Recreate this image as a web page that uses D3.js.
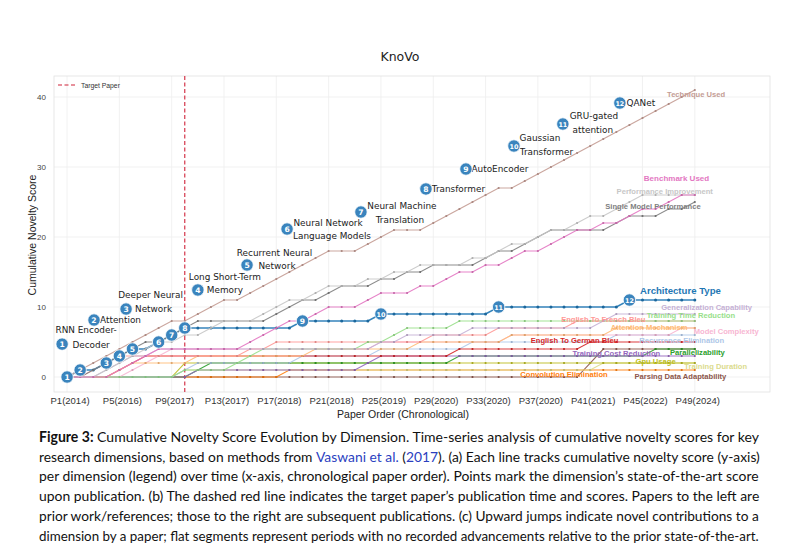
<!DOCTYPE html>
<html>
<head>
<meta charset="utf-8">
<title>KnoVo</title>
<style>
    body { margin: 0; padding: 0; background: #fff; }
    svg { display: block; }
    .tick-label { font-family: "Liberation Sans", Arial, sans-serif; font-size: 9.5px; fill: #333; }
    .ytick { font-family: "Liberation Sans", Arial, sans-serif; font-size: 8px; fill: #444; }
    .axis-title { font-family: "Liberation Sans", Arial, sans-serif; font-size: 10.5px; fill: #222; }
    .anno { font-family: "DejaVu Sans", sans-serif; font-size: 8.9px; fill: #222; }
    .dim-label { font-family: "Liberation Sans", Arial, sans-serif; font-size: 7.6px; font-weight: bold; }
    .caption { font-family: Lato, "Open Sans", sans-serif; font-size: 14.2px; fill: #111; }
</style>
</head>
<body>
<svg id="chart" width="800" height="544"></svg>
<script src="https://d3js.org/d3.v7.min.js"></script>
<script>
// ---- data (one value per paper, P1..P49) ----
var techniqueUsed = [0,1,2,3,4,5,6,7,8,8,9,10,11,11,12,13,14,15,16,17,18,18,18,19,20,21,21,21,22,23,24,25,26,27,27,28,29,30,31,32,33,34,35,36,37,38,39,40,41];
var benchmarkUsed = [0,0,0,0,1,2,3,4,4,4,4,4,4,4,5,6,7,8,8,9,10,10,10,11,12,12,12,13,13,14,15,15,16,16,17,18,18,19,20,21,21,22,22,23,24,24,25,26,26];
var perfImprovement = [0,0,0,1,2,3,4,5,5,6,6,7,8,8,8,9,10,11,11,12,13,13,13,14,14,15,15,16,16,16,16,17,17,18,19,19,20,21,21,22,23,23,24,25,26,26,26,26,26];
var singleModelPerf = [0,0,1,2,3,4,5,5,6,7,8,8,8,8,8,8,9,10,11,11,12,13,13,13,14,14,15,15,16,16,16,16,17,18,18,19,20,21,21,21,21,21,22,23,23,23,24,24,25];
var architectureType = [0,1,1,2,3,4,4,5,6,7,7,7,7,7,7,7,7,7,8,8,8,8,8,8,9,9,9,9,9,9,9,9,9,10,10,10,10,10,10,10,10,10,10,11,11,11,11,11,11];
var generalization = [0,0,0,1,2,3,3,4,4,4,4,4,4,4,4,4,4,4,4,4,4,4,4,4,5,5,6,6,6,6,6,7,7,7,7,7,7,7,7,7,7,8,9,9,9,9,9,9,9];
var trainTimeReduction = [0,0,0,0,0,0,0,0,0,1,1,1,1,2,3,4,4,4,4,4,4,4,4,5,5,6,7,7,7,7,8,8,8,8,8,8,8,8,8,8,8,8,8,8,8,8,8,8,8];
var enFrBleu = [0,0,1,2,3,3,3,3,3,3,3,3,3,3,4,4,5,5,5,5,5,5,5,5,5,5,5,5,6,6,6,6,6,7,7,7,7,7,7,8,8,8,8,8,8,8,8,8,8];
var attentionMech = [0,0,0,0,1,2,2,2,2,2,3,3,3,3,3,3,3,3,3,4,4,4,4,4,4,4,4,5,5,5,5,5,5,5,6,6,6,6,6,6,6,6,7,7,7,7,7,7,7];
var modelComplexity = [0,0,0,0,0,1,2,3,4,4,4,4,4,4,4,4,4,4,4,4,4,4,4,4,5,5,5,5,5,5,5,5,5,5,6,6,6,6,6,6,6,6,6,6,6,6,6,7,7];
var enDeBleu = [0,0,0,0,1,2,3,3,3,3,3,3,3,3,3,3,3,3,3,3,3,3,3,3,3,3,3,3,3,3,4,4,4,4,4,4,4,4,4,4,5,5,5,5,5,5,5,5,5];
var recurrenceElim = [0,0,0,0,0,0,0,0,0,1,2,2,2,2,2,2,2,2,3,3,3,3,3,3,4,4,4,4,4,4,4,5,5,5,5,5,5,5,5,5,5,5,6,6,6,6,6,6,6];
var trainCostReduction = [0,0,0,0,0,0,0,0,0,0,1,1,1,1,1,1,1,1,1,1,1,1,1,2,3,3,3,3,3,3,3,3,3,3,3,3,3,3,3,3,3,3,3,3,3,3,3,3,3];
var parallelizability = [0,0,0,0,0,0,0,0,0,0,1,2,2,2,2,2,2,2,2,2,2,2,2,2,2,2,2,2,2,2,3,3,3,3,3,3,3,3,3,3,3,3,3,3,3,4,4,4,4];
var gpuUsage = [0,0,0,0,0,0,0,0,0,2,2,2,2,2,2,2,2,2,2,2,2,2,2,2,2,2,2,2,2,2,2,2,2,2,2,2,2,2,2,2,2,2,2,2,2,2,2,2,2];
var trainDuration = [0,0,0,0,0,0,0,0,0,1,1,1,1,1,1,1,1,1,1,1,1,1,1,1,1,1,1,1,1,1,1,1,1,1,1,1,1,1,1,1,1,2,2,2,2,2,2,2,2];
var convElimination = [0,0,0,0,0,0,0,0,0,0,0,0,0,0,0,0,0,1,1,1,1,1,1,1,1,1,1,1,1,1,1,1,1,1,1,1,1,1,1,1,1,1,1,1,1,1,1,1,1];
var parsingAdapt = [0,0,0,0,0,0,0,0,0,0,0,0,0,0,0,0,0,0,0,0,0,0,0,0,0,0,0,0,0,0,0,0,0,0,0,0,0,0,0,0,2,4,4,4,4,4,4,4,4];

var dimensions = ["Technique Used", "Benchmark Used", "Performance Improvement", "Single Model Performance",
    "Architecture Type", "Generalization Capability", "Training Time Reduction", "English To French Bleu",
    "Attention Mechanism", "Model Complexity", "English To German Bleu", "Recurrence Elimination",
    "Training Cost Reduction", "Parallelizability", "Gpu Usage", "Training Duration",
    "Convolution Elimination", "Parsing Data Adaptability"];
var series = [techniqueUsed, benchmarkUsed, perfImprovement, singleModelPerf, architectureType, generalization,
    trainTimeReduction, enFrBleu, attentionMech, modelComplexity, enDeBleu, recurrenceElim,
    trainCostReduction, parallelizability, gpuUsage, trainDuration, convElimination, parsingAdapt];

var targetPaper = 9; // P10
var xTickIdx = [0, 4, 8, 12, 16, 20, 24, 28, 32, 36, 40, 44, 48];
var xTickLabels = ["P1(2014)", "P5(2016)", "P9(2017)", "P13(2017)", "P17(2018)", "P21(2018)", "P25(2019)",
    "P29(2020)", "P33(2020)", "P37(2020)", "P41(2021)", "P45(2022)", "P49(2024)"];
var yTicks = [0, 10, 20, 30, 40];

// milestones along the architecture line
var milestones = [["RNN Encoder-", "Decoder"], ["Attention"], ["Deeper Neural", "Network"], ["Long Short-Term", "Memory"],
    ["Recurrent Neural", "Network"], ["Neural Network", "Language Models"], ["Neural Machine", "Translation"],
    ["Transformer"], ["AutoEncoder"], ["Gaussian", "Transformer"], ["GRU-gated", "attention"], ["QANet"]];

// ---- styling / layout ----
var colors = ["#c49c94", "#e377c2", "#c7c7c7", "#7f7f7f", "#1f77b4", "#c5b0d5", "#98df8a", "#ff9896",
    "#ffbb78", "#f7b6d2", "#d62728", "#aec7e8", "#9467bd", "#2ca02c", "#bcbd22", "#dbdb8d", "#ff7f0e", "#8c564b"];

// where the dimension names sit, in chart units [paper index, score]
var labelSpots = [[48.1, 40.4], [46.6, 28.4], [45.7, 26.5], [44.8, 24.4], [46.9, 12.3], [48.9, 9.95],
    [47.7, 8.85], [41, 8.2], [44.5, 7.1], [50.4, 6.6], [38.8, 5.2], [47, 5.3], [42, 3.4], [48.2, 3.5],
    [45, 2.2], [49.6, 1.6], [38, 0.4], [46.9, 0.05]];

// milestone label anchor (circle) in chart units, and pixel offsets for each text line
var milestoneSpots = [[-0.38, 4.7], [2.06, 8.14], [4.51, 9.71], [10.0, 12.43], [13.76, 16], [16.82, 21.14],
    [22.47, 23.57], [27.44, 26.86], [30.5, 29.71], [34.17, 33], [37.91, 36.14], [42.27, 39.14]];
var milestoneOffsets = [[[24, -14], [29, 1]], [[26.5, 0]], [[24.5, -14], [27.5, 0]], [[27, -13], [27, 0]],
    [[27.5, -12], [30, 1]], [[41, -6], [45, 7]], [[41, -6], [39, 8]], [[32.5, 0]], [[34, 0]],
    [[26, -8], [32.5, 6]], [[31, -8], [30, 6]], [[21, 0]]];

var svg = d3.select("#chart");
svg.append("rect").attr("width", 800).attr("height", 544).attr("fill", "#fff");

var plot = { left: 54, right: 770, top: 76, bottom: 392 };

var x = d3.scaleLinear().domain([-1, 53.75]).range([plot.left, plot.right]);
var y = d3.scaleLinear().domain([-2.14, 43]).range([plot.bottom, plot.top]);

// title
svg.append("text").attr("x", 400).attr("y", 61).attr("text-anchor", "middle")
    .style("font-family", "DejaVu Sans, sans-serif").style("font-size", "12.5px").attr("fill", "#222")
    .text("KnoVo");

// grid
var grid = svg.append("g");
grid.selectAll(".gy").data(yTicks).enter().append("line")
    .attr("x1", plot.left).attr("x2", plot.right)
    .attr("y1", function (d) { return y(d); }).attr("y2", function (d) { return y(d); })
    .attr("stroke", "#ededed").attr("stroke-width", 0.8);
grid.selectAll(".gx").data(xTickIdx).enter().append("line")
    .attr("y1", plot.top).attr("y2", plot.bottom)
    .attr("x1", function (d) { return x(d); }).attr("x2", function (d) { return x(d); })
    .attr("stroke", "#ededed").attr("stroke-width", 0.8);
svg.append("rect").attr("x", plot.left).attr("y", plot.top)
    .attr("width", plot.right - plot.left).attr("height", plot.bottom - plot.top)
    .attr("fill", "none").attr("stroke", "#e2e2e2").attr("stroke-width", 0.8);

// axes tick labels
svg.append("g").selectAll("text").data(xTickIdx).enter().append("text")
    .attr("class", "tick-label")
    .attr("x", function (d) { return x(d) + 3; }).attr("y", plot.bottom + 11.5)
    .attr("text-anchor", "middle")
    .text(function (d, i) { return xTickLabels[i]; });
svg.append("g").selectAll("text").data(yTicks).enter().append("text")
    .attr("class", "ytick")
    .attr("x", plot.left - 8).attr("y", function (d) { return y(d) + 3; })
    .attr("text-anchor", "end")
    .text(function (d) { return d; });

svg.append("text").attr("class", "axis-title").attr("x", 403).attr("y", 418)
    .attr("text-anchor", "middle").text("Paper Order (Chronological)");
svg.append("text").attr("class", "axis-title")
    .attr("transform", "translate(36,235) rotate(-90)")
    .attr("text-anchor", "middle").text("Cumulative Novelty Score");

// target paper line
svg.append("line")
    .attr("x1", x(targetPaper)).attr("x2", x(targetPaper))
    .attr("y1", plot.top).attr("y2", plot.bottom)
    .attr("stroke", "#d0243a").attr("stroke-width", 1.1).attr("stroke-dasharray", "4,2.5");

// legend
svg.append("line").attr("x1", 58).attr("x2", 76).attr("y1", 85).attr("y2", 85)
    .attr("stroke", "#d0243a").attr("stroke-width", 1.1).attr("stroke-dasharray", "4,2.5");
svg.append("text").attr("x", 81).attr("y", 87.5)
    .style("font-family", "Liberation Sans, Arial, sans-serif").style("font-size", "6.8px").attr("fill", "#333")
    .text("Target Paper");

// lines
var line = d3.line()
    .x(function (d, i) { return x(i); })
    .y(function (d) { return y(d); });

var order = d3.range(series.length).reverse();
var lines = svg.append("g");
order.forEach(function (k) {
    var isArch = k === 4;
    lines.append("path")
        .datum(series[k])
        .attr("d", line)
        .attr("fill", "none")
        .attr("stroke", colors[k])
        .attr("stroke-width", isArch ? 1.7 : 1.15)
        .attr("stroke-opacity", 0.9);
    lines.append("g").selectAll("circle").data(series[k]).enter().append("circle")
        .attr("cx", function (d, i) { return x(i); })
        .attr("cy", function (d) { return y(d); })
        .attr("r", isArch ? 1.5 : 1.1)
        .attr("fill", d3.color(colors[k]).darker(0.4));
});

// dimension labels
svg.append("g").selectAll("text").data(dimensions).enter().append("text")
    .attr("class", "dim-label")
    .attr("x", function (d, i) { return x(labelSpots[i][0]); })
    .attr("y", function (d, i) { return y(labelSpots[i][1]) + 2.7; })
    .attr("text-anchor", "middle")
    .attr("fill", function (d, i) { return colors[i]; })
    .style("font-size", function (d, i) { return i === 4 ? "9.6px" : (i === 1 ? "8px" : "7.6px"); })
    .text(function (d) { return d; });

// numbered milestone circles on the architecture line (first point + each jump)
var jumps = [];
architectureType.forEach(function (v, i) {
    if (i === 0 || v > architectureType[i - 1]) jumps.push(i);
});

function badge(g, cx, cy, n) {
    g.append("circle").attr("cx", cx).attr("cy", cy).attr("r", 6.2)
        .attr("fill", "#3a84bd").attr("stroke", "#fff").attr("stroke-width", 0.8);
    g.append("text").attr("x", cx).attr("y", cy + 2.8).attr("text-anchor", "middle")
        .style("font-family", "DejaVu Sans, sans-serif").style("font-size", n > 9 ? "6.4px" : "7.6px")
        .style("font-weight", "bold").attr("fill", "#fff").text(n);
}

var badges = svg.append("g");
jumps.forEach(function (idx, j) {
    badge(badges, x(idx), y(architectureType[idx]), j + 1);
});

// milestone text labels
var annos = svg.append("g");
milestones.forEach(function (lines, j) {
    var cx = x(milestoneSpots[j][0]), cy = y(milestoneSpots[j][1]);
    lines.forEach(function (t, k) {
        annos.append("text").attr("class", "anno")
            .attr("x", cx + milestoneOffsets[j][k][0])
            .attr("y", cy + milestoneOffsets[j][k][1] + 3)
            .attr("text-anchor", "middle")
            .text(t);
    });
    badge(annos, cx, cy, j + 1);
});

// caption, each line squeezed to the column width
var captionLines = [
    [["Figure 3:", "b"], [" Cumulative Novelty Score Evolution by Dimension. Time-series analysis of cumulative novelty scores for key"]],
    [["research dimensions, based on methods from "], ["Vaswani et al.", "l"], [" ("], ["2017", "l"], ["). (a) Each line tracks cumulative novelty score (y-axis)"]],
    [["per dimension (legend) over time (x-axis, chronological paper order). Points mark the dimension\u2019s state-of-the-art score"]],
    [["upon publication. (b) The dashed red line indicates the target paper\u2019s publication time and scores. Papers to the left are"]],
    [["prior work/references; those to the right are subsequent publications. (c) Upward jumps indicate novel contributions to a"]],
    [["dimension by a paper; flat segments represent periods with no recorded advancements relative to the prior state-of-the-art."]]
];
var colWidth = 720;
captionLines.forEach(function (parts, i) {
    var g = svg.append("g");
    var t = g.append("text").attr("class", "caption").attr("x", 0).attr("y", 0);
    parts.forEach(function (p) {
        var s = t.append("tspan").text(p[0]);
        if (p[1] === "b") s.style("font-weight", "bold");
        if (p[1] === "l") s.attr("fill", "#2b3fbf");
    });
    var w = t.node().getComputedTextLength();
    g.attr("transform", "translate(39," + (442 + i * 19.7) + ") scale(" + (colWidth / w) + ",1)");
});
</script>
</body>
</html>
